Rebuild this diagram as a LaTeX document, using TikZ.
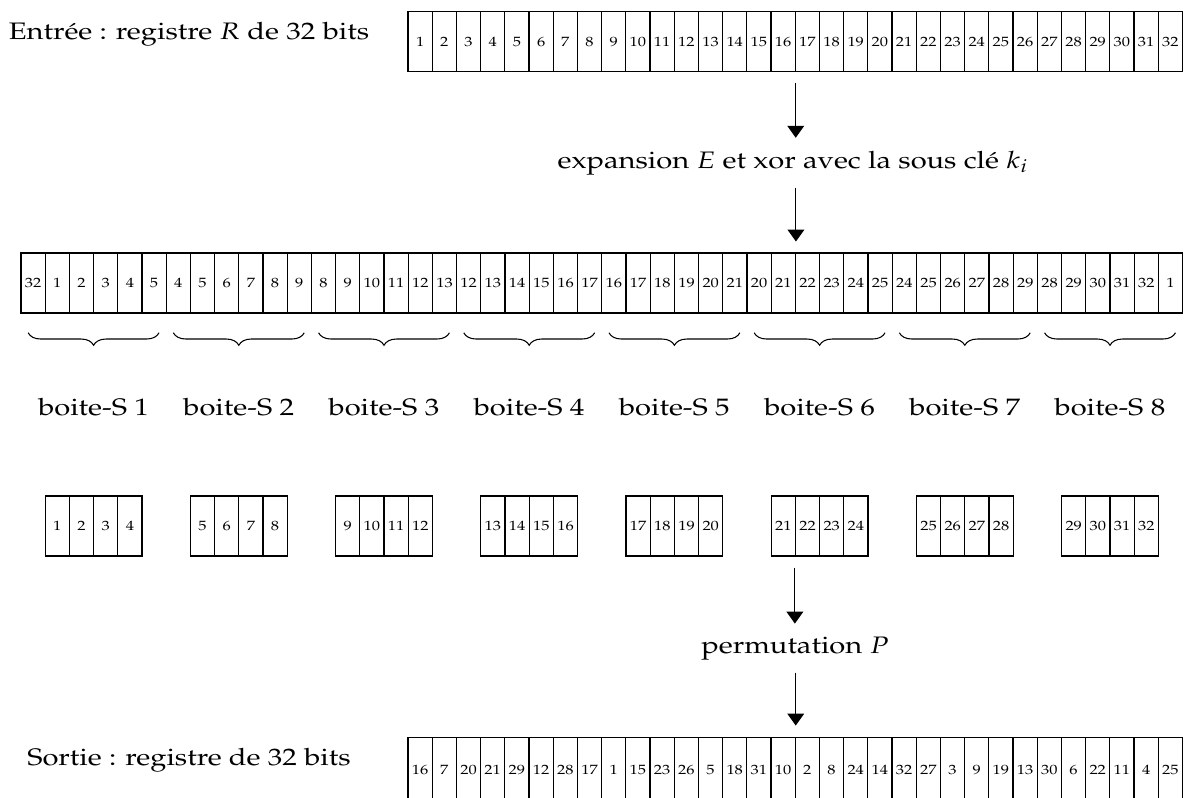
\documentclass[tikz,border=0pt]{standalone}
\usepackage[T1]{fontenc}
\usepackage{mathpazo}
\usetikzlibrary{arrows.meta}
\usetikzlibrary{decorations.pathreplacing}
\newcommand{\wide}[1]{\scalebox{1.22}[1]{#1}}

\begin{document}
\begin{tikzpicture}[x=0.52pt,y=-0.52pt,
		cell/.style={draw, line width=0.55pt, minimum width=12.58pt, minimum height=31.2pt,
			inner sep=0pt, font=\fontsize{7}{8}\selectfont},
		lbl/.style={anchor=base, inner sep=0pt, font=\fontsize{12.4}{14}\selectfont},
		steplbl/.style={anchor=base, inner sep=6.5pt, font=\fontsize{12.4}{14}\selectfont},
		flow/.style={line width=0.55pt, -{Triangle[length=6.2pt,width=8.7pt]}},
		sbrace/.style={line width=0.55pt, decorate, decoration={brace, mirror, amplitude=6.5pt}}]
		\useasboundingbox (0,0) rectangle (1185,797);
		
		\node[lbl] (inlbl) at (189,39) {\wide{Entrée : registre $R$ de 32 bits}};
		\foreach \i in {1,...,32}
			\node[cell] (t\i) at (395.9+24.2*\i, 41.7) {\wide{\i}};
		
		\node[steplbl] (expE) at (793,168) {\wide{expansion $E$ et xor avec la sous clé $k_i$}};
		\draw[flow, shorten <=5.7pt] (t16.south east) -- (t16.south east |- expE.north);
		
		\foreach \j in {1,...,48}{
			\pgfmathtruncatemacro\g{(\j-1)/6}
			\pgfmathtruncatemacro\v{mod(4*\g+mod(\j-1,6)+31,32)+1}
			\node[cell] (e\j) at (8.9+24.2*\j, 283) {\wide{\v}};
		}
		\draw[flow, shorten >=5.7pt] (e32.north east |- expE.south) -- (e32.north east);
		
		\foreach \n in {1,...,8}{
			\pgfmathtruncatemacro\a{6*\n-5}
			\pgfmathtruncatemacro\b{6*\n}
			\draw[sbrace] ([xshift=4pt,yshift=-10pt]e\a.south west) -- ([xshift=-4pt,yshift=-10pt]e\b.south east);
			\node[lbl] (sbox\n) at (-51.6+145.2*\n, 415) {\wide{boite-S \n}};
		}
		
		\foreach \n in {1,...,32}{
			\pgfmathtruncatemacro\g{(\n-1)/4}
			\node[cell] (s\n) at (33.1+24.2*\n+48.4*\g, 526) {\wide{\n}};
		}
		
		\node[steplbl] (permP) at (795,653) {\wide{permutation $P$}};
		\draw[flow, shorten <=5.7pt] (s22.south west) -- (s22.south west |- permP.north);
		
		\node[lbl] (outlbl) at (189,765) {\wide{Sortie : registre de 32 bits}};
		\foreach \v [count=\i] in {16,7,20,21,29,12,28,17,1,15,23,26,5,18,31,10,2,8,24,14,32,27,3,9,19,13,30,6,22,11,4,25}
			\node[cell, minimum height=34.3pt] (b\i) at (395.9+24.2*\i, 770) {\wide{\v}};
		\draw[flow, shorten >=5.7pt] (b16.north east |- permP.south) -- (b16.north east);
	\end{tikzpicture}
\end{document}
